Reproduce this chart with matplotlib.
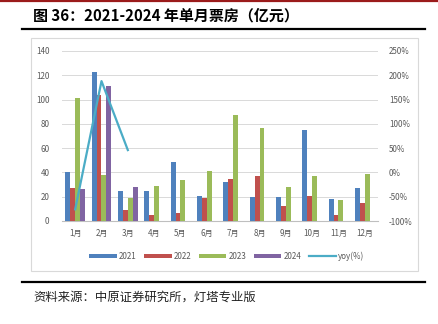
import numpy as np
import matplotlib.pyplot as plt
from matplotlib.patches import Rectangle
from matplotlib.lines import Line2D

plt.rcParams['font.family'] = ['Noto Sans CJK SC', 'DejaVu Sans']

months = ['1月', '2月', '3月', '4月', '5月', '6月', '7月', '8月', '9月', '10月', '11月', '12月']
box_2021 = [40, 123, 25, 25, 49, 21, 32, 20, 20, 75, 18, 27]
box_2022 = [27, 104, 9, 5, 7, 19, 35, 37, 12, 21, 5, 15]
box_2023 = [101, 38, 19, 29, 34, 41, 87, 77, 28, 37, 17, 39]
box_2024 = [26, 111, 28]
yoy = [-76, 188, 46]

colors = ['#4F81BD', '#C0504D', '#9BBB59', '#8064A2']
yoy_color = '#4BACC6'
tick_color = '#595959'

fig = plt.figure(figsize=(4.39, 3.24), dpi=100)
W, H = 439, 324

def fx(px):
    return px / W

def fy(py):
    return 1 - py / H

# header / footer decorations
fig.add_artist(Line2D([0, 1], [fy(1), fy(1)], color='#9B1B1B', lw=1.6))
fig.add_artist(Line2D([fx(22), fx(425)], [fy(28.5), fy(28.5)], color='black', lw=1.6))
fig.add_artist(Line2D([fx(22), fx(425)], [fy(282), fy(282)], color='black', lw=1.6))
fig.add_artist(Rectangle((fx(31), fy(271)), fx(418) - fx(31), fy(38) - fy(271),
                         fill=False, edgecolor='#D9D9D9', lw=0.8))

fig.text(fx(33), fy(15.5), '图 36：2021-2024 年单月票房（亿元）', fontsize=10.8,
         fontweight='bold', va='center', ha='left')
fig.text(fx(33), fy(297.5), '资料来源：中原证券研究所，灯塔专业版', fontsize=8.9,
         va='center', ha='left', color='#222222')

ax = fig.add_axes([fx(62), fy(221), fx(378) - fx(62), fy(51) - fy(221)])
x = np.arange(len(months))
bw = 0.187
series = [box_2021, box_2022, box_2023, box_2024]
labels = ['2021', '2022', '2023', '2024']
for i, (vals, c, lab) in enumerate(zip(series, colors, labels)):
    xs = x[:len(vals)] + (i - 1.5) * bw
    ax.bar(xs, vals, width=bw, color=c, label=lab, zorder=3)

ax.set_xlim(-0.5, len(months) - 0.5)
ax.set_ylim(0, 140)
ax.set_yticks(range(0, 141, 20))
ax.set_xticks(x)
ax.set_xticklabels(months)
ax.grid(axis='y', color='#D9D9D9', lw=0.7, zorder=0)
for s in ['top', 'right', 'left']:
    ax.spines[s].set_visible(False)
ax.spines['bottom'].set_color('#BFBFBF')
ax.spines['bottom'].set_linewidth(0.8)
ax.tick_params(axis='both', length=0, labelsize=5.8, colors=tick_color, pad=6)
ax.tick_params(axis='y', pad=9)

ax2 = ax.twinx()
ax2.set_ylim(-100, 250)
ax2.set_yticks(range(-100, 251, 50))
ax2.set_yticklabels([f'{v}%' for v in range(-100, 251, 50)])
ax2.plot(x[:len(yoy)], yoy, color=yoy_color, lw=1.6, label='yoy(%)', zorder=4)
for s in ax2.spines.values():
    s.set_visible(False)
ax2.tick_params(axis='y', length=0, labelsize=5.8, colors=tick_color, pad=8)

h1, l1 = ax.get_legend_handles_labels()
h2, l2 = ax2.get_legend_handles_labels()
fig.legend(h1 + h2, l1 + l2, loc='center', bbox_to_anchor=(fx(227), fy(256)), ncol=5,
           frameon=False, fontsize=5.8, labelcolor=tick_color, handlelength=3.4,
           handleheight=0.5, handletextpad=0.3, columnspacing=0.9)

fig.savefig('out.png', dpi=100)
